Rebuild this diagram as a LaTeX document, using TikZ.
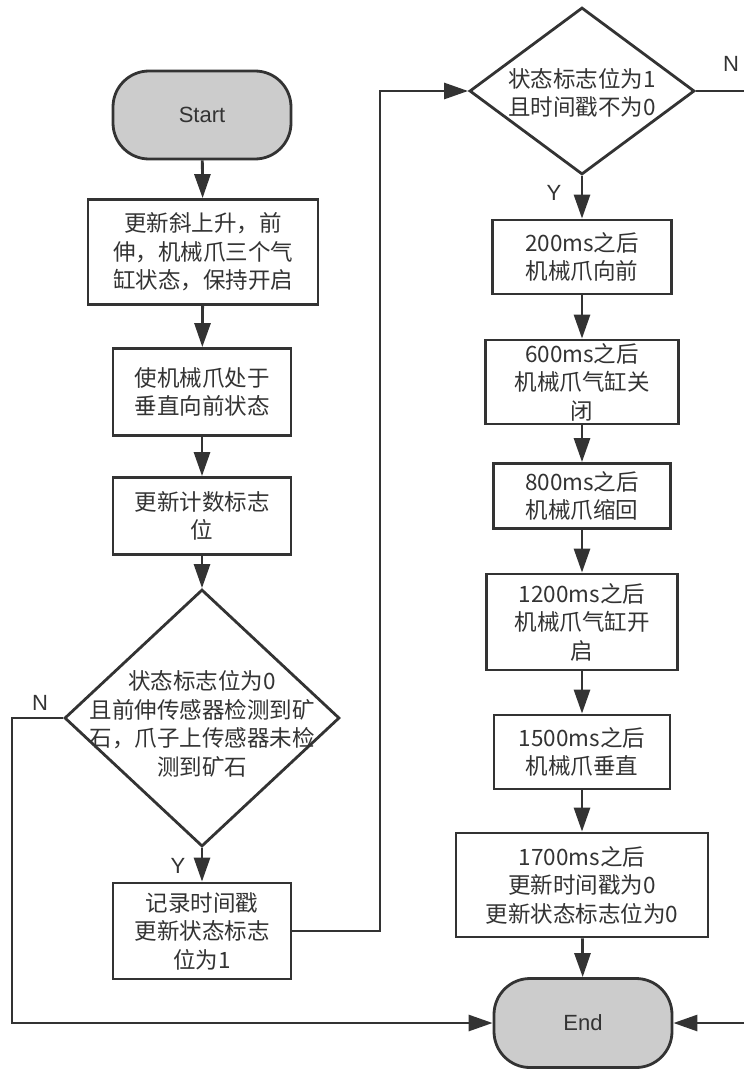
\documentclass[tikz,border=0pt]{standalone}
\usepackage{fontspec}
\setmainfont{Liberation Sans}
\newfontfamily\cjk{Noto Sans CJK SC}
\usetikzlibrary{arrows.meta,shapes.geometric}
\definecolor{ln}{HTML}{333333}
\definecolor{tx}{HTML}{333333}
\definecolor{term}{HTML}{CCCCCC}
\tikzset{
  box/.style={draw=ln, line width=2.8pt, fill=white, inner sep=2pt, align=center, text=tx,
    font=\cjk\fontsize{22.5}{28.5}\selectfont},
  termbox/.style={draw=ln, line width=2.8pt, fill=term, rounded corners=36pt, text=tx,
    font=\fontsize{22}{26}\selectfont},
  dia/.style={draw=ln, line width=2.8pt, diamond, inner sep=0pt, fill=white},
  diatext/.style={align=center, text=tx, font=\cjk\fontsize{22.5}{28.5}\selectfont},
  conn/.style={draw=ln, line width=2.8pt, -{Triangle[length=24pt,width=16pt]}},
  plain/.style={draw=ln, line width=2.8pt},
  yn/.style={text=tx, font=\fontsize{22}{26}\selectfont}
}
\begin{document}
\begin{tikzpicture}[x=1pt,y=-1pt]
\useasboundingbox (0,0) rectangle (744,1070);
% left column
\node[termbox, minimum width=178pt, minimum height=88pt] (start) at (202,115) {Start};
\node[box, minimum width=230pt, minimum height=105pt] (b1) at (203,252) {更新斜上升，前\\伸，机械爪三个气\\缸状态，保持开启};
\node[box, minimum width=178pt, minimum height=87pt] (b2) at (202,392) {使机械爪处于\\垂直向前状态};
\node[box, minimum width=178pt, minimum height=77pt] (b3) at (202,516) {更新计数标志\\位};
\node[dia, minimum width=275pt, minimum height=257pt] (d1) at (202,718) {};
\node[diatext] (d1t) at (202,724) {状态标志位为0\\且前伸传感器检测到矿\\石，爪子上传感器未检\\测到矿石};
\node[box, minimum width=178pt, minimum height=96pt] (b4) at (202,931) {记录时间戳\\更新状态标志\\位为1};
% right column
\node[dia, minimum width=225pt, minimum height=167pt] (d2) at (582,91) {};
\node[diatext] (d2t) at (582,93) {状态标志位为1\\且时间戳不为0};
\node[box, minimum width=179pt, minimum height=74pt] (b5) at (582,257) {200ms之后\\机械爪向前};
\node[box, minimum width=193pt, minimum height=84pt] (b6) at (582,382) {600ms之后\\机械爪气缸关\\闭};
\node[box, minimum width=177pt, minimum height=65pt] (b7) at (582,496) {800ms之后\\机械爪缩回};
\node[box, minimum width=191pt, minimum height=96pt] (b8) at (582,622) {1200ms之后\\机械爪气缸开\\启};
\node[box, minimum width=176pt, minimum height=74pt] (b9) at (582,752) {1500ms之后\\机械爪垂直};
\node[box, minimum width=252pt, minimum height=104pt] (b10) at (582,885) {1700ms之后\\更新时间戳为0\\更新状态标志位为0};
\node[termbox, minimum width=178pt, minimum height=89pt] (end) at (583,1023) {End};
% helper coordinates
\coordinate (nL1) at (12,718);
\coordinate (nL2) at (12,1023);
\coordinate (r1) at (380,931);
\coordinate (r2) at (380,91);
\coordinate (nR) at (744,91);
\coordinate (eR) at (744,1023);
% connectors
\draw[conn] (start) -- (b1);
\draw[conn] (b1) -- (b2);
\draw[conn] (b2) -- (b3);
\draw[conn] (b3) -- (d1.north);
\draw[conn] (d1.south) -- (b4);
\draw[conn] (d1.west) -- (nL1) -- (nL2) -- (end.west);
\draw[conn] (b4.east) -- (r1) -- (r2) -- (d2.west);
\draw[conn] (d2.south) -- (b5);
\draw[conn] (b5) -- (b6);
\draw[conn] (b6) -- (b7);
\draw[conn] (b7) -- (b8);
\draw[conn] (b8) -- (b9);
\draw[conn] (b9) -- (b10);
\draw[conn] (b10) -- (end);
\draw[plain] (d2.east) -- (nR);
\draw[conn] (eR) -- (end.east);
% labels
\node[yn] (n1) at (40,703) {N};
\node[yn] (y1) at (178,866) {Y};
\node[yn] (y2) at (554,193) {Y};
\node[yn] (n2) at (731,64) {N};
\end{tikzpicture}
\end{document}
